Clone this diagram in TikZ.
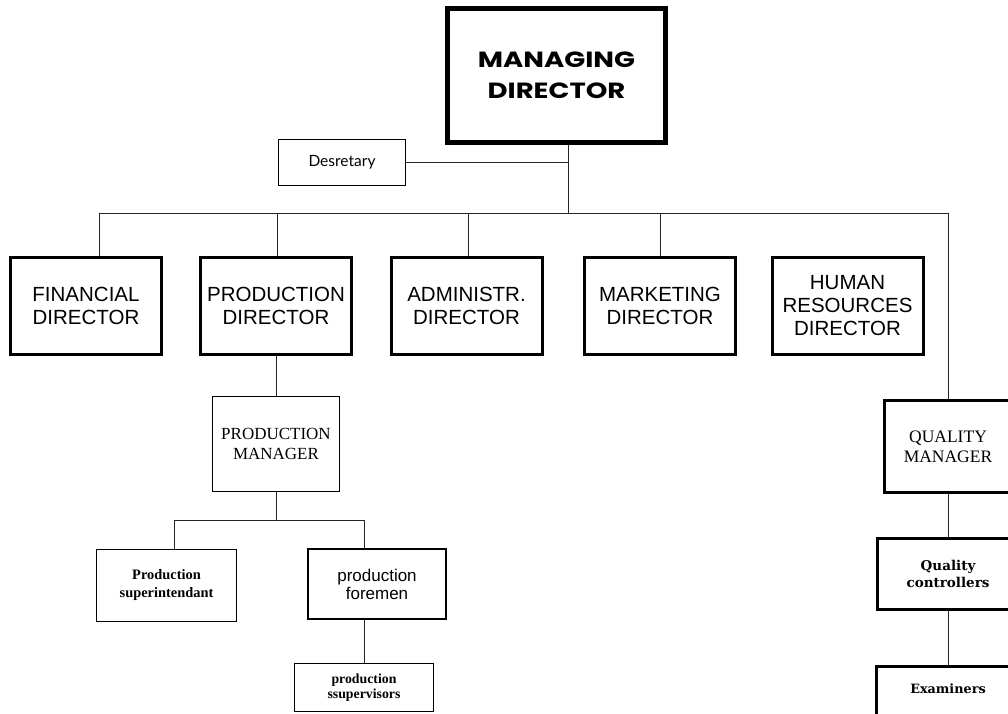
\documentclass[tikz,border=0pt]{standalone}
\usepackage{fontspec}
\setmainfont{Liberation Serif}
\setsansfont{Liberation Sans}
\newfontfamily\mdfont{Poppins}[FakeStretch=1.25]
\newfontfamily\secfont{Lato}
\newfontfamily\ccfont{DejaVu Serif}

\newcommand*{\topbus}{213}
\newcommand*{\prodbus}{520}

\begin{document}
\begin{tikzpicture}
[
	x=1pt, y=-1pt,
	box/.style={draw, rectangle, align=center, inner sep=0pt},
	headbox/.style={box, line width=4.5pt, minimum width=218pt, minimum height=134pt, font=\mdfont\bfseries\fontsize{22}{31}\selectfont},
	dirbox/.style={box, line width=3pt, minimum width=151pt, minimum height=97pt, font=\sffamily\fontsize{20.5}{23}\selectfont},
	thinbox/.style={box, line width=1pt},
	qbox/.style={box, line width=3pt},
	link/.style={line width=0.9pt, black!85}
]

	% page frame
	\useasboundingbox (0,0) rectangle (1008,713);
	\clip (0,0) rectangle (1008,713);

	% head and secretary
	\node[headbox] (md) at (556.5,75.5) {MANAGING\\DIRECTOR};
	\node[thinbox, minimum width=127pt, minimum height=46pt, font=\secfont\fontsize{15.5}{17}\selectfont] (sec) at (342,162.5) {Desretary};

	% directors
	\node[dirbox] (fin) at (86,306) {FINANCIAL\\DIRECTOR};
	\node[dirbox] (prod) at (276,306) {PRODUCTION\\DIRECTOR};
	\node[dirbox] (adm) at (466.5,306) {ADMINISTR.\\DIRECTOR};
	\node[dirbox] (mkt) at (660,306) {MARKETING\\DIRECTOR};
	\node[dirbox] (hr) at (847.5,306) {HUMAN\\RESOURCES\\DIRECTOR};

	% production branch
	\node[thinbox, minimum width=127pt, minimum height=95pt, font=\fontsize{17}{19.7}\selectfont] (pm) at (276,444) {PRODUCTION\\MANAGER};
	\node[thinbox, minimum width=140pt, minimum height=72pt, font=\bfseries\fontsize{14.4}{18}\selectfont] (sup) at (166.5,585.5) {Production\\superintendant};
	\node[box, line width=2pt, minimum width=138pt, minimum height=70pt, font=\sffamily\fontsize{17}{18}\selectfont] (fore) at (377,584) {production\\foremen};
	\node[thinbox, minimum width=139pt, minimum height=48pt, font=\bfseries\fontsize{13.8}{15.5}\selectfont] (sv) at (364,687.5) {production\\ssupervisors};

	% quality branch
	\node[qbox, minimum width=127pt, minimum height=92pt, font=\fontsize{17.5}{19.7}\selectfont] (qm) at (948,446.5) {QUALITY\\MANAGER};
	\node[qbox, minimum width=141pt, minimum height=71pt, font=\ccfont\bfseries\fontsize{13.5}{17.7}\selectfont] (qc) at (948,574) {Quality\\controllers};
	\node[qbox, anchor=north, minimum width=143pt, minimum height=60pt, text depth=15pt, font=\ccfont\bfseries\fontsize{12.8}{15}\selectfont] (ex) at (948,664.5) {Examiners};

	% top bus
	\coordinate (hub) at (568,\topbus);
	\coordinate (tfin) at (99,\topbus);
	\coordinate (tprod) at (277,\topbus);
	\coordinate (tadm) at (468,\topbus);
	\coordinate (tmkt) at (660,\topbus);
	\coordinate (tq) at (948,\topbus);

	\draw[link] (md.south -| hub) -- (hub);
	\draw[link] (sec.east) -- (sec.east -| hub);
	\draw[link] (tfin) -- (tq) -- (tq |- qm.north);
	\foreach \t/\n in {tfin/fin, tprod/prod, tadm/adm, tmkt/mkt}
		\draw[link] (\t) -- (\t |- \n.north);

	% production links
	\coordinate (pbus) at (276,\prodbus);
	\coordinate (psup) at (174,\prodbus);
	\coordinate (pfore) at (364,\prodbus);

	\draw[link] (prod.south) -- (pm.north);
	\draw[link] (pm.south) -- (pbus);
	\draw[link] (psup |- sup.north) -- (psup) -- (pfore) -- (pfore |- fore.north);
	\draw[link] (fore.south -| sv.north) -- (sv.north);

	% quality links
	\draw[link] (qm.south) -- (qc.north);
	\draw[link] (qc.south) -- (ex.north);

\end{tikzpicture}
\end{document}
